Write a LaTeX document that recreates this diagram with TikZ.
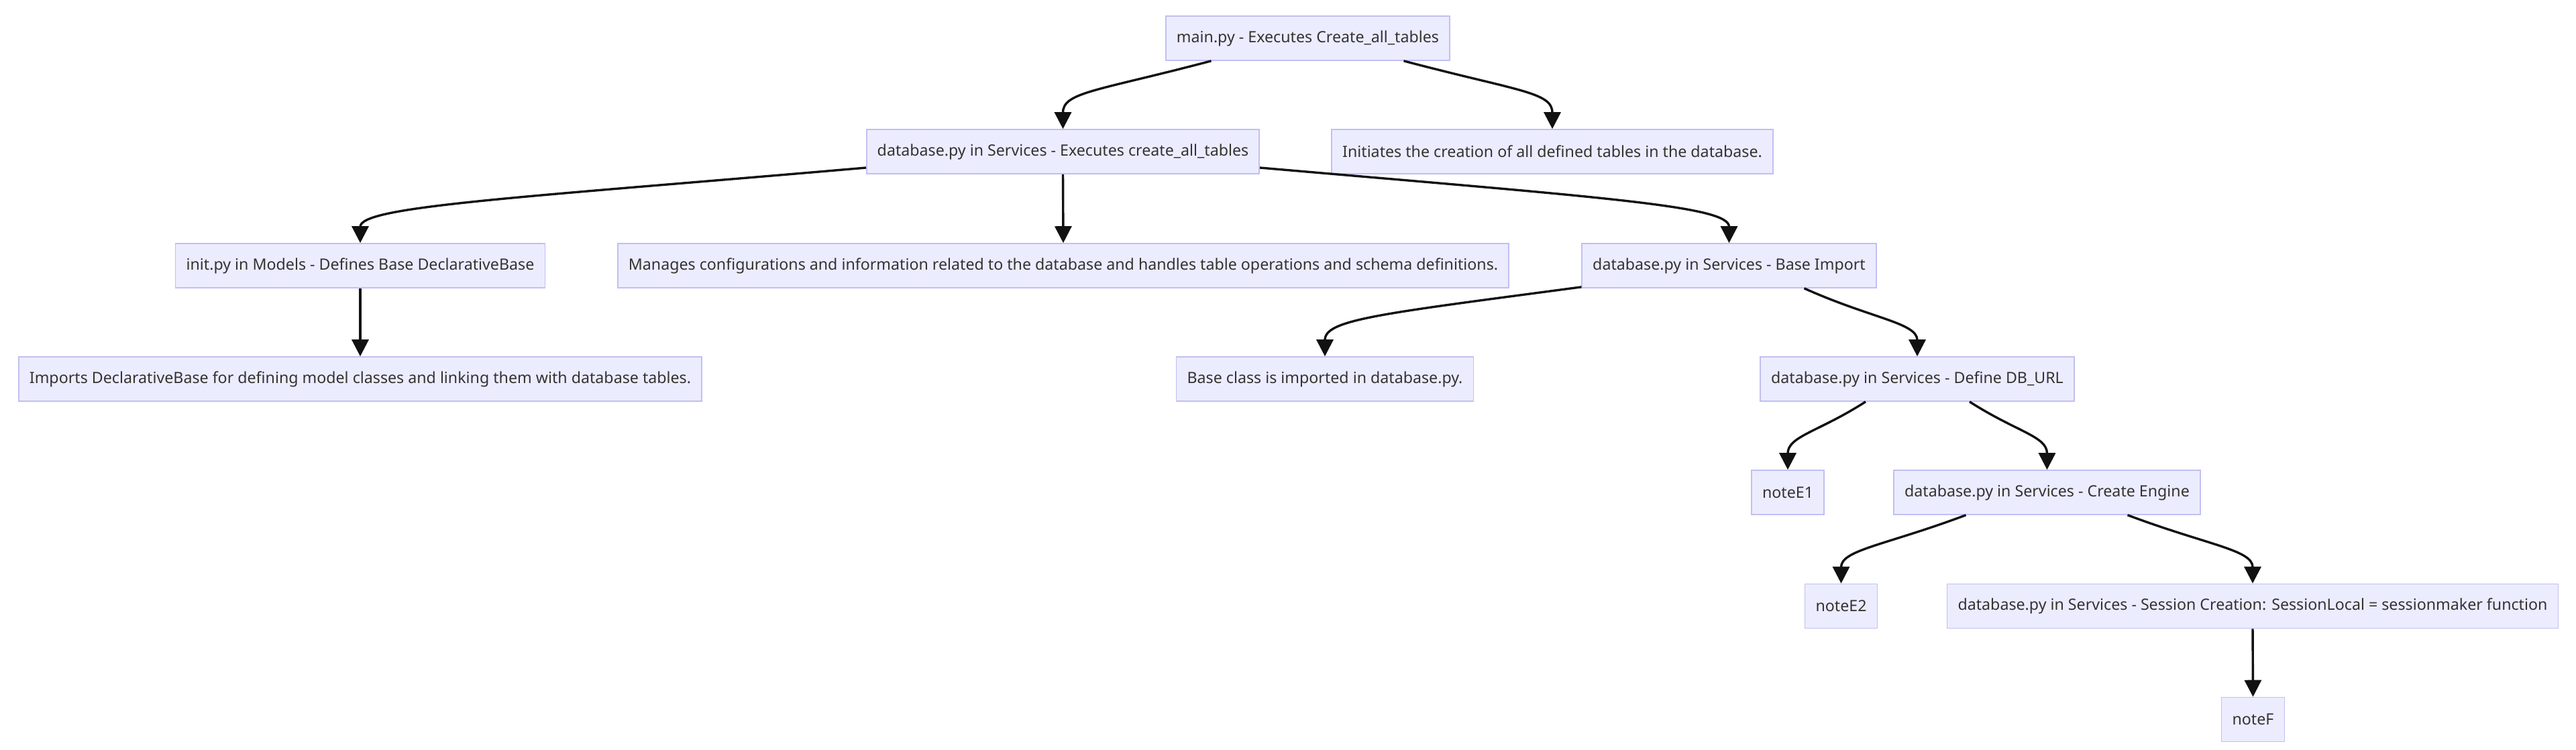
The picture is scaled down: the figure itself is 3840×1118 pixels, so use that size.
\documentclass[tikz,border=0pt]{standalone}
\usepackage{fontspec}
\setmainfont{Noto Sans}
\usetikzlibrary{arrows.meta, calc}
\definecolor{boxfill}{HTML}{ECECFF}
\definecolor{boxline}{HTML}{C0C0F2}
\definecolor{txt}{HTML}{333333}
\definecolor{edge}{HTML}{111111}

\begin{document}
\begin{tikzpicture}[
    x=0.5pt, y=-0.5pt,
    every node/.style={font=\fontsize{11.6}{14}\selectfont, text=txt},
    box/.style={rectangle, draw=boxline, fill=boxfill, line width=0.8pt,
        minimum height=33pt, inner xsep=8pt, inner ysep=0pt},
    arr/.style={-{Triangle[length=12.5pt, width=12.5pt]}, line width=1.7pt, color=edge},
]
\useasboundingbox (0,0) rectangle (3840,1118);

% ============================================================ top two rows
\node[box] (main)   at (1949.5, 57) {main.py - Executes Create\_all\_tables};
\node[box] (db)     at (1584.5, 226) {database.py in Services - Executes create\_all\_tables};
\node[box] (initnote) at (2314, 226) {Initiates the creation of all defined tables in the database.};

% ============================================================ third row
\node[box] (models)  at (537, 396) {init.py in Models - Defines Base DeclarativeBase};
\node[box] (manages) at (1585, 396) {Manages configurations and information related to the database and handles table operations and schema definitions.};
\node[box] (baseimp) at (2577.5, 396) {database.py in Services - Base Import};

% ============================================================ fourth row
\node[box] (imports)   at (537, 565) {Imports DeclarativeBase for defining model classes and linking them with database tables.};
\node[box] (baseclass) at (1975, 565) {Base class is imported in database.py.};
\node[box] (dburl)     at (2858, 565) {database.py in Services - Define DB\_URL};

% ============================================================ the chain down the right
\node[box] (noteE1)  at (2665, 734) {noteE1};
\node[box] (engine)  at (3051.5, 734) {database.py in Services - Create Engine};
\node[box] (noteE2)  at (2744.5, 903.5) {noteE2};
\node[box] (session) at (3358, 903.5) {database.py in Services - Session Creation: SessionLocal = sessionmaker function};
\node[box] (noteF)   at (3358.5, 1072.5) {noteF};

% edges
\draw[arr] ($(main.south)+(-144,0)$) .. controls +(-170,45) and +(0,-55) .. (db.north);
\draw[arr] ($(main.south)+(143,0)$) .. controls +(170,45) and +(0,-55) .. (initnote.north);

\draw[arr] ($(db.west)+(0,24)$) .. controls +(-520,45) and +(0,-55) .. (models.north);
\draw[arr] (db.south) -- (manages.north);
\draw[arr] ($(db.east)+(0,24)$) .. controls +(520,45) and +(0,-55) .. (baseimp.north);

\draw[arr] (models.south) -- (imports.north);

\draw[arr] ($(baseimp.south west)+(0,-2)$) .. controls +(-300,40) and +(0,-55) .. (baseclass.north);
\draw[arr] ($(baseimp.south)+(112,0)$) .. controls +(100,45) and +(0,-50) .. (dburl.north);

\draw[arr] ($(dburl.south)+(-77,0)$) .. controls +(-70,45) and +(0,-50) .. (noteE1.north);
\draw[arr] ($(dburl.south)+(78,0)$) .. controls +(70,45) and +(0,-50) .. (engine.north);

\draw[arr] ($(engine.south)+(-121,0)$) .. controls +(-120,45) and +(0,-50) .. (noteE2.north);
\draw[arr] ($(engine.south)+(120,0)$) .. controls +(120,45) and +(0,-50) .. (session.north);

\draw[arr] (session.south) -- (noteF.north);

\end{tikzpicture}
\end{document}
